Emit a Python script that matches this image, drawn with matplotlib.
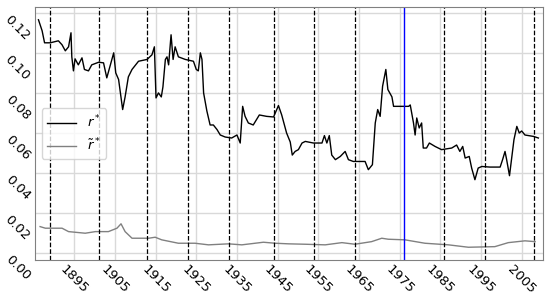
import matplotlib
matplotlib.use('Agg')
import matplotlib.pyplot as plt

# r* (year, value)
r_years = [1886.2, 1886.6, 1887.1, 1887.7, 1889.1, 1891.1, 1892.0, 1892.8, 1893.6, 1894.2,
           1894.4, 1894.8, 1895.2, 1896.0, 1896.9, 1897.5, 1898.5, 1899.3, 1901.0, 1902.2,
           1903.0, 1903.8, 1904.7, 1905.2, 1905.9, 1906.9, 1907.5, 1908.3, 1909.2, 1910.8,
           1912.9, 1914.1, 1914.7, 1915.1, 1915.7, 1916.4, 1916.8, 1917.4, 1917.8, 1918.2,
           1918.8, 1919.3, 1919.8, 1920.6, 1922.3, 1924.3, 1925.0, 1925.5, 1926.0, 1926.4,
           1926.8, 1927.6, 1928.4, 1929.2, 1930.1, 1930.9, 1932.1, 1933.7, 1935.0, 1935.8,
           1936.4, 1937.0, 1937.8, 1939.0, 1940.5, 1942.3, 1944.0, 1945.2, 1946.0, 1947.2,
           1948.1, 1948.6, 1949.3, 1950.1, 1951.0, 1951.8, 1953.8, 1955.9, 1956.5, 1957.1,
           1957.7, 1958.3, 1959.2, 1960.4, 1961.6, 1962.4, 1963.6, 1966.5, 1967.3, 1968.3,
           1969.0, 1969.6, 1970.2, 1970.8, 1971.6, 1972.1, 1973.1, 1973.5, 1977.2, 1977.6,
           1978.4, 1978.8, 1979.2, 1979.8, 1980.4, 1980.8, 1981.6, 1982.3, 1983.7, 1985.3,
           1987.8, 1989.0, 1989.8, 1990.5, 1991.1, 1992.1, 1992.7, 1993.5, 1994.3, 1995.2,
           1997.2, 1999.7, 2000.3, 2000.9, 2001.3, 2002.0, 2002.6, 2003.1, 2003.8, 2004.4,
           2005.0, 2005.8, 2007.9, 2009.1]
r_vals = [0.1165, 0.1140, 0.1110, 0.1050, 0.1050, 0.1060, 0.1040, 0.1010, 0.1030, 0.1100,
          0.0980, 0.0910, 0.0970, 0.0940, 0.0975, 0.0917, 0.0910, 0.0940, 0.0953, 0.0950,
          0.0875, 0.0933, 0.1000, 0.0900, 0.0867, 0.0717, 0.0780, 0.0880, 0.0917, 0.0958,
          0.0967, 0.0990, 0.1030, 0.0775, 0.0800, 0.0780, 0.0830, 0.0967, 0.0980, 0.0940,
          0.1090, 0.0967, 0.1030, 0.0980, 0.0967, 0.0958, 0.0917, 0.0910, 0.1000, 0.0967,
          0.0800, 0.0710, 0.0640, 0.0640, 0.0617, 0.0590, 0.0580, 0.0575, 0.0590, 0.0550,
          0.0733, 0.0683, 0.0650, 0.0640, 0.0690, 0.0683, 0.0680, 0.0737, 0.0690, 0.0600,
          0.0555, 0.0490, 0.0508, 0.0517, 0.0550, 0.0558, 0.0550, 0.0550, 0.0587, 0.0550,
          0.0587, 0.0490, 0.0467, 0.0483, 0.0508, 0.0467, 0.0458, 0.0458, 0.0417, 0.0442,
          0.0650, 0.0717, 0.0683, 0.0833, 0.0917, 0.0817, 0.0780, 0.0733, 0.0733, 0.0740,
          0.0650, 0.0590, 0.0675, 0.0625, 0.0650, 0.0525, 0.0525, 0.0550, 0.0533, 0.0517,
          0.0525, 0.0540, 0.0508, 0.0533, 0.0475, 0.0483, 0.0425, 0.0367, 0.0425, 0.0433,
          0.0430, 0.0430, 0.0467, 0.0508, 0.0467, 0.0387, 0.0483, 0.0567, 0.0633, 0.0600,
          0.0610, 0.0590, 0.0583, 0.0575]

# r-tilde*
rt_years = [1886.6, 1887.9, 1892.0, 1893.6, 1897.7, 1900.2, 1903.4, 1905.5, 1906.5, 1907.5,
            1909.2, 1913.3, 1914.9, 1916.5, 1920.6, 1924.7, 1928.0, 1932.9, 1936.2, 1941.5,
            1944.4, 1947.7, 1951.8, 1956.7, 1960.8, 1964.0, 1968.1, 1970.6, 1972.2, 1976.3,
            1981.2, 1987.0, 1991.9, 1998.4, 2001.7, 2005.8, 2008.3]
rt_vals = [0.0133, 0.0125, 0.0125, 0.0108, 0.0100, 0.0108, 0.0108, 0.0125, 0.0147, 0.0108,
           0.0075, 0.0075, 0.0080, 0.0067, 0.0050, 0.0050, 0.0042, 0.0047, 0.0042, 0.0055,
           0.0050, 0.0047, 0.0045, 0.0042, 0.0053, 0.0045, 0.0058, 0.0075, 0.0070, 0.0067,
           0.0050, 0.0042, 0.0030, 0.0033, 0.0053, 0.0062, 0.0058]

breaks = [1889, 1901, 1913, 1923, 1933, 1944, 1954, 1964, 1986, 1996, 2008]
blue_year = 1976
xticks = [1895, 1905, 1915, 1925, 1935, 1945, 1955, 1965, 1975, 1985, 1995, 2005]
yticks = [0.00, 0.02, 0.04, 0.06, 0.08, 0.10, 0.12]

fig = plt.figure(figsize=(5.5, 2.97), dpi=100)
ax = fig.add_axes([0.064, 0.125, 0.923, 0.851])

ax.plot(r_years, r_vals, '-', color='black', lw=1, label='$r^*$')
ax.plot(rt_years, rt_vals, '-', color='grey', lw=1, label=r'$\tilde{r}^*$')
for b in breaks:
    ax.axvline(b, color='black', ls='--', lw=0.9)
ax.axvline(blue_year, color='blue', lw=1)

ax.set_xlim(1885.4, 2010.2)
ax.set_ylim(-0.0033, 0.1228)
ax.set_xticks(xticks)
ax.set_yticks(yticks)
ax.set_xticklabels([str(t) for t in xticks], rotation=-45, ha='center', va='top', fontsize=9.5)
ax.set_yticklabels(['%.2f' % t for t in yticks], rotation=-45, va='top', fontsize=9.5)
ax.tick_params(axis='x', length=0, pad=2)
ax.tick_params(axis='y', length=0, pad=2)
ax.grid(True, color='0.85', lw=1)
ax.set_axisbelow(True)
for s in ax.spines.values():
    s.set_color('0.5')
ax.legend(loc='center left', fontsize=9.5, framealpha=0.8, handlelength=2.2)

plt.savefig('out.png', dpi=100)
